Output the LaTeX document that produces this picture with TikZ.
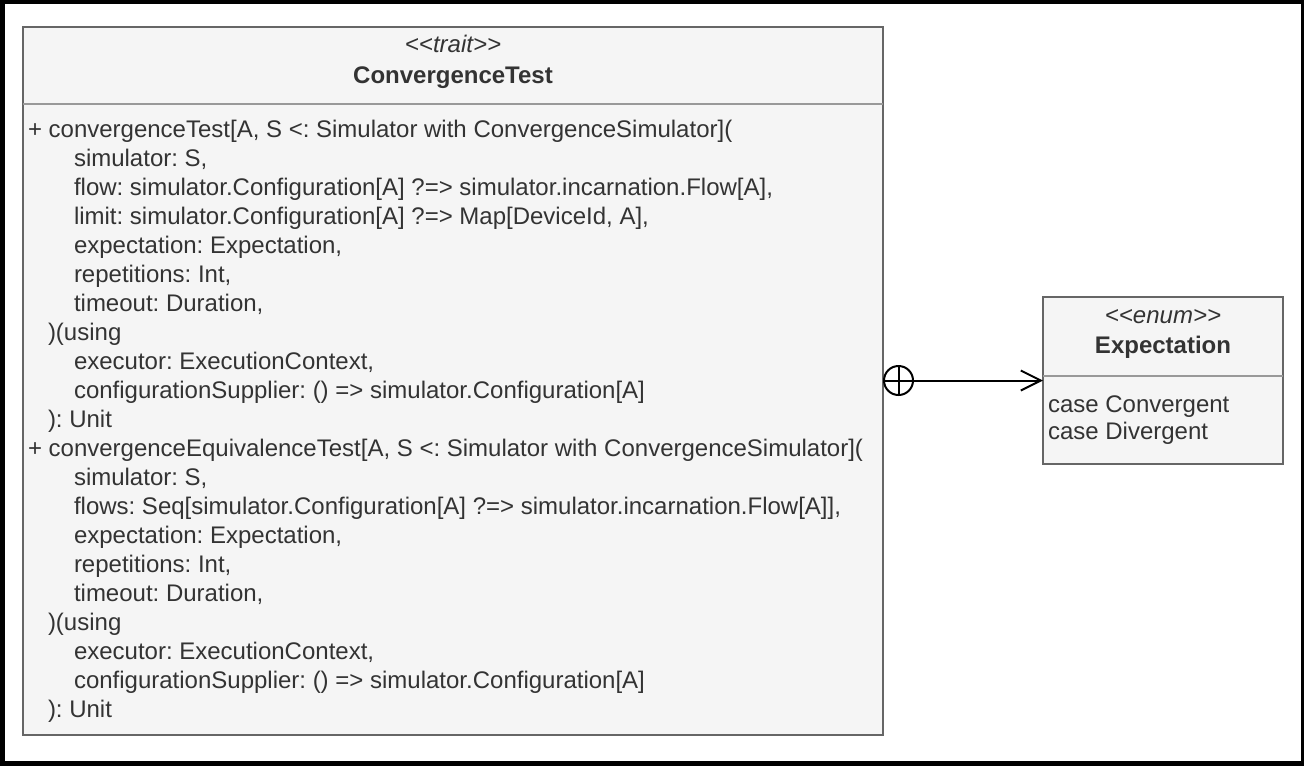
\documentclass[tikz,border=0pt]{standalone}
\usepackage{fontspec}
\setmainfont{Liberation Sans}
\usetikzlibrary{arrows.meta}
\definecolor{txt}{HTML}{333333}
\definecolor{boxfill}{HTML}{F5F5F5}
\definecolor{boxline}{HTML}{666666}
\definecolor{divline}{HTML}{999999}
\frenchspacing
\begin{document}
\begin{tikzpicture}[x=1pt,y=-1pt,
  every node/.style={inner sep=0pt, outer sep=0pt, text=txt, font=\fontsize{24}{29}\selectfont},
  ln/.style={anchor=base west},
  ttl/.style={anchor=base},
  classbox/.style={draw=boxline, fill=boxfill, line width=2pt, anchor=north west},
  divider/.style={draw=divline, line width=2pt},
  link/.style={draw=black, line width=2pt}]
\useasboundingbox (0,0) rectangle (1304,766);
\fill[black] (0,0) rectangle (1304,766);
\fill[white] (5,4) rectangle (1300.5,761);
% main class
\node[classbox, minimum width=860pt, minimum height=708pt] (trait) at (23,27) {};
\draw[divider] ([yshift=-77pt]trait.north west) -- ([yshift=-77pt]trait.north east);
\node[ttl] (st1) at (453,52) {\itshape <{}<trait>{}>};
\node[ttl] (nm1) at (453,83) {\bfseries ConvergenceTest};
\node[ln] (m1) at (28,137) {+ convergenceTest[A, S <: Simulator with ConvergenceSimulator](};
\node[ln] (m2) at (74,166) {simulator: S,};
\node[ln] (m3) at (74,195) {flow: simulator.Configuration[A] ?=> simulator.incarnation.Flow[A],};
\node[ln] (m4) at (74,224) {limit: simulator.Configuration[A] ?=> Map[DeviceId, A],};
\node[ln] (m5) at (74,253) {expectation: Expectation,};
\node[ln] (m6) at (74,282) {repetitions: Int,};
\node[ln] (m7) at (74,311) {timeout: Duration,};
\node[ln] (m8) at (48,340) {)(using};
\node[ln] (m9) at (74,369) {executor: ExecutionContext,};
\node[ln] (m10) at (74,398) {configurationSupplier: () => simulator.Configuration[A]};
\node[ln] (m11) at (48,427) {): Unit};
\node[ln] (m12) at (28,456) {+ convergenceEquivalenceTest[A, S <: Simulator with ConvergenceSimulator](};
\node[ln] (m13) at (74,485) {simulator: S,};
\node[ln] (m14) at (74,514) {flows: Seq[simulator.Configuration[A] ?=> simulator.incarnation.Flow[A]],};
\node[ln] (m15) at (74,543) {expectation: Expectation,};
\node[ln] (m16) at (74,572) {repetitions: Int,};
\node[ln] (m17) at (74,601) {timeout: Duration,};
\node[ln] (m18) at (48,630) {)(using};
\node[ln] (m19) at (74,659) {executor: ExecutionContext,};
\node[ln] (m20) at (74,688) {configurationSupplier: () => simulator.Configuration[A]};
\node[ln] (m21) at (48,717) {): Unit};
% enum
\node[classbox, minimum width=240pt, minimum height=167pt] (exp) at (1043,297) {};
\draw[divider] ([yshift=-79pt]exp.north west) -- ([yshift=-79pt]exp.north east);
\node[ttl] (st2) at (1163,323) {\itshape <{}<enum>{}>};
\node[ttl] (nm2) at (1163,353) {\bfseries Expectation};
\node[ln] (e1) at (1048,412) {case Convergent};
\node[ln] (e2) at (1048,439) {case Divergent};
% nesting connector
\node[circle, draw=black, line width=2pt, minimum size=29pt] (nest) at (898.5,380.5) {};
\draw[link] (nest.north) -- (nest.south);
\draw[link] (nest.west) -- (nest.east);
\draw[link, -{Straight Barb[length=20pt, width=20pt]}] (nest.east) -- (exp.west);
\end{tikzpicture}
\end{document}
